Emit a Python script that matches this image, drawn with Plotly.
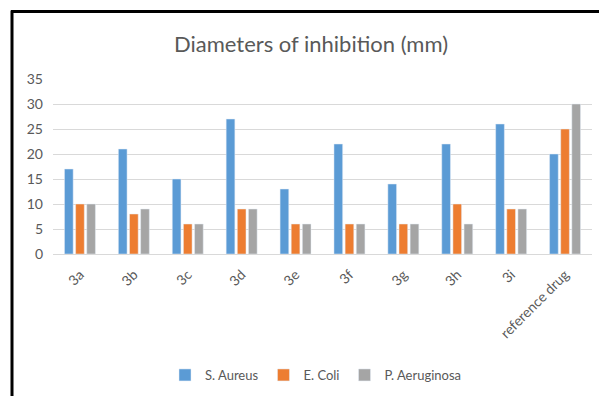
import plotly.graph_objects as go

categories = ["3a", "3b", "3c", "3d", "3e", "3f", "3g", "3h", "3i", "reference drug"]
s_aureus = [17, 21, 15, 27, 13, 22, 14, 22, 26, 20]
e_coli = [10, 8, 6, 9, 6, 6, 6, 10, 9, 25]
p_aeruginosa = [10, 9, 6, 9, 6, 6, 6, 6, 9, 30]

W, H = 599, 396
L, R, T, B = 53, 7, 79, 141
pw, ph = W - L - R, H - T - B

def px_x(x):
    return (x - L) / pw

def px_y(y):
    return (H - B - y) / ph

font_family = "Lato, 'Open Sans', sans-serif"
grey_text = "#595959"

fig = go.Figure()
fig.add_trace(go.Bar(name="S. Aureus", x=categories, y=s_aureus, marker_color="#5B9BD5"))
fig.add_trace(go.Bar(name="E. Coli", x=categories, y=e_coli, marker_color="#ED7D31"))
fig.add_trace(go.Bar(name="P. Aeruginosa", x=categories, y=p_aeruginosa, marker_color="#A5A5A5"))

fig.update_layout(
    width=W, height=H,
    margin=dict(l=L, r=R, t=T, b=B),
    paper_bgcolor="white", plot_bgcolor="white",
    barmode="group", bargap=0.38, bargroupgap=0.22,
    font=dict(family=font_family, color=grey_text, size=13),
    title=dict(text="Diameters of inhibition (mm)", x=311 / W, xanchor="center",
               y=1 - 44 / H, yanchor="middle",
               font=dict(size=22, color=grey_text, family=font_family)),
    legend=dict(orientation="h", x=px_x(316), xanchor="center", y=px_y(375), yanchor="middle",
                font=dict(size=13, color=grey_text), itemwidth=30, traceorder="normal",
                entrywidth=0),
    showlegend=True,
)
fig.update_xaxes(tickangle=-45, showline=True, linecolor="#D9D9D9", linewidth=1,
                 ticks="", ticklabelstandoff=6, tickfont=dict(size=14, color=grey_text))
fig.update_yaxes(range=[0, 35], dtick=5, showgrid=True, gridcolor="#D9D9D9", gridwidth=1,
                 zeroline=False, showline=False, ticks="", ticklabelstandoff=9,
                 tickfont=dict(size=14, color=grey_text))

# black frame (left and top edges of the original chart border)
fig.add_shape(type="line", xref="paper", yref="paper",
              x0=px_x(12), x1=px_x(12), y0=px_y(10), y1=px_y(400),
              line=dict(color="black", width=3))
fig.add_shape(type="line", xref="paper", yref="paper",
              x0=px_x(11), x1=px_x(610), y0=px_y(11), y1=px_y(11),
              line=dict(color="black", width=3))

fig.write_html("out.html")
